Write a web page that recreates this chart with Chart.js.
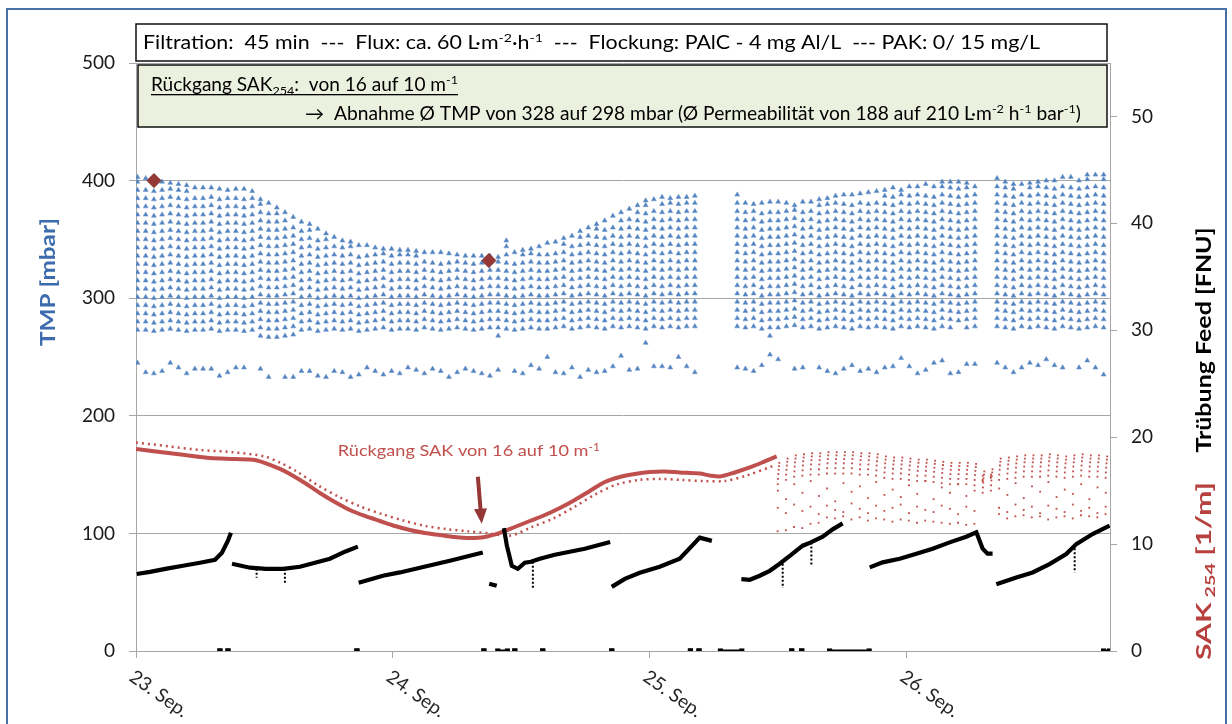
<!DOCTYPE html>
<html>
<head>
<meta charset="utf-8">
<script src="https://cdn.jsdelivr.net/npm/chart.js@4/dist/chart.umd.min.js"></script>
<style>
  html, body { margin: 0; padding: 0; background: #fff; }
  #wrap { width: 1232px; height: 724px; position: relative; }
</style>
</head>
<body>
<div id="wrap"><canvas id="c" width="1232" height="724"></canvas></div>
<script>
// ---- axis ticks / labels ----
const dayTicks = [0, 24, 48, 72];                       // hours since 23 Sep 00:00
const dayLabels = ['23. Sep.', '24. Sep.', '25. Sep.', '26. Sep.'];
const tmpTicks = [0, 100, 200, 300, 400, 500];
const turbTicks = [0, 10, 20, 30, 40, 50];

// ---- TMP filtration cycles (45 min filtration + backwash) ----
const CYCLE_H = 0.7658;
const TMP_STEP = 7;                                     // logged TMP increments within a cycle
const runStartHour = [0.14, 56.17, 80.45];
const runCycles = [69, 30, 14];
const tmpTop = [
  403,402,400,399,398,397,396,394,394,394, 393,392,393,393,391,384,381,377,373,369,
  365,363,359,355,352,349,348,345,345,343, 342,342,341,341,340,339,339,339,338,337,
  336,336,336,336,335,349,339,341,342,344, 347,348,351,353,357,360,363,366,370,373,
  376,379,383,384,386,385,386,386,387,
  388,381,380,381,382,382,381,379,382,382, 384,385,387,388,388,389,390,391,392,394,
  392,395,395,397,395,399,399,399,398,395,
  402,399,397,397,398,399,400,400,403,403,400,405,405,405
];
const tmpBase = [
  273,273,272,273,274,273,272,273,273,274,272,273,273,272,273,
  268,267,267,268,269,
  273,274,272,273,274,273,274,272,273,274, 275,273,274,274,273,275,274,273,274,275,
  274,273,274,275,268,274,273,274,275,274, 274,275,276,274,275,276,275,274,276,275,
  276,275,274,276,275,276,275,276,276,
  276,275,276,274,268,275,276,277,275,276, 274,275,276,275,274,276,275,276,275,274,
  276,275,276,275,274,276,275,281,275,276,
  276,275,274,276,275,276,275,274,276,275,274,275,276,275
];
const tmpFirst = [
  245,237,236,238,245,241,236,240,240,240,234,237,241,241,
  null,
  240,233,null,233,233,238,238,234,233,238,237,233,235,241,238,235,238,
  236,241,239,236,240,238,233,237,240,238,236,234,239,null,238,236,243,240,250,237,236,241,233,239,
  237,238,242,251,239,240,262,242,242,241,250,242,237,
  241,240,238,243,252,248,null,240,241,null,241,238,236,240,243,238,240,237,
  241,242,249,242,236,239,245,247,236,237,244,244,
  245,241,237,241,245,243,248,243,241,null,241,247,241,235
];
const markHours = [1.68, 32.97];
const markTmp = [400, 332];

// ---- SAK254 [1/m] ----
const sakHours = [0,2.24,4.58,6.91,9.25,11.11,12.33,13.45,14.38,15.78,17.18,18.58,19.98,21.39,22.79,
  24.19,25.59,26.99,28.39,29.79,31.19,32.59,33.99,35.39,36.79,38.2,39.6,41.0,42.4,43.8,
  45.2,46.6,48.0,49.4,50.8,52.67,53.6,54.54,55.94,57.34,58.74,59.86];
const sakValues = [18.9,18.62,18.33,18.05,17.96,17.87,17.49,17.03,16.56,15.72,14.78,13.94,13.19,12.63,12.16,
  11.69,11.32,11.04,10.85,10.66,10.57,10.66,11.04,11.6,12.16,12.72,13.38,14.13,14.97,15.81,
  16.28,16.56,16.74,16.79,16.7,16.6,16.42,16.32,16.7,17.17,17.73,18.2];
const sakDotHours = [0,3,6,9,12,13.5,15,17,19,21,23,25,27,29,31,33,35,37,39,41,43,45,47,49,51,53,55,57,59.5];
const sakDotValues = [19.5,19.15,18.8,18.6,18.2,17.6,16.8,15.5,14.4,13.5,12.8,12.2,11.7,11.4,11.2,11.0,
  10.8,11.6,12.4,13.5,14.7,15.6,16.0,16.1,16.0,15.9,15.9,16.4,17.3];
const sakCycleStart = 59.95;
const sakTop = [17.6,18.0,18.3,18.4,18.5,18.5,18.6,18.6,18.6,18.6, 18.5,18.5,18.4,18.2,18.1,18.1,18.0,17.9,17.9,17.8,
  17.7,17.6,17.6,17.6,17.5,16.8,17.0,18.0,18.1,18.2, 18.3,18.3,18.3,18.4,18.3,18.2,18.3,18.4,18.3,18.3, 18.2];
const sakMid = [15.0,14.2,15.6,14.8,15.9,14.5,15.2,14.0,15.7,14.9, 15.4,14.3,15.8,14.6,15.1,14.4,15.5,14.7,15.9,14.2,
  15.3,14.8,15.6,14.5,15.0,16.4,16.5,15.2,14.6,15.7, 14.3,15.4,14.9,15.8,14.4,15.1,14.7,15.6,14.2,15.3, 14.8];
const sakMid2 = [13.4,12.9,13.7,13.1,13.5,12.8,13.6,13.2,13.0,13.8, 13.3,12.9,13.6,13.1,13.4,13.7,12.9,13.5,13.2,13.0,
  13.6,13.3,12.8,13.5,13.1,16.0,16.3,13.4,13.0,13.7, 13.2,13.5,12.9,13.6,13.3,13.0,13.7,13.1,13.4,12.9, 13.5];
const sakLow = [11.2,11.3,11.6,11.5,11.9,12.0, 12.5,12.4,12.6,12.3,12.5,12.2,12.4,12.3,12.1,12.3,12.2,12.0,12.2,12.1,
  12.0,11.9,12.0,11.8,11.9, 15.9,16.2, 12.8,12.4,12.6,12.7,12.5,12.6,12.3,12.5,12.6,12.4,12.7,12.6,12.5,12.8];
const sakArcDx = [0.16, 0.13, 0.09, 0.06, 0.03, 0.01];  // shape of the dense arc at the top of a cycle
const sakArcDrop = [0, 0.3, 0.65, 1.05, 1.5, 2.0];

// ---- Trübung Feed [FNU] ----
const turbHours = [
  0.07,1.31,2.87,4.39,5.98,7.38,8.03,8.59,8.87, null,
  8.97,10.65,12.14,13.73,15.32,16.72,18.12,19.52,20.73, null,
  20.8,23.07,24.65,29.32,32.4, null,
  33.0,33.7, null,
  34.37,34.65,35.11,35.67,36.33,36.89,37.73,39.13,40.53,41.93,43.33,44.3, null,
  44.45,45.67,47.07,48.93,50.8,52.67,53.8, null,
  56.56,57.34,58.27,59.21,60.14,61.35,62.29,63.05,64.16,65.09,66.02, null,
  68.55,69.76,71.35,72.91,74.43,76.02,77.57,78.51,78.82,79.1,79.56,80.03, null,
  80.38,82.25,83.77,85.35,86.91,87.85,89.37,90.96
];
const turbValues = [
  7.2,7.4,7.7,7.97,8.26,8.54,9.19,10.32,11.07, null,
  8.16,7.79,7.69,7.69,7.88,8.26,8.63,9.29,9.76, null,
  6.38,7.04,7.35,8.44,9.22, null,
  6.3,6.1, null,
  11.5,9.85,7.97,7.69,8.26,8.35,8.63,9.0,9.29,9.57,9.94,10.2, null,
  6.0,6.75,7.32,7.88,8.63,10.6,10.3, null,
  6.73,6.66,7.04,7.5,8.16,9.1,9.85,10.16,10.7,11.38,11.94, null,
  7.82,8.29,8.63,9.1,9.57,10.16,10.69,11.1,10.32,9.57,9.1,9.1, null,
  6.25,6.88,7.35,8.13,9.07,10.0,10.94,11.73
];
const turbSpikeHours = [11.27, 13.91, 37.08, 60.42, 63.1, 87.7];
const turbSpikeFrom  = [7.69, 7.69, 8.35, 8.16, 10.16, 9.6];
const turbSpikeTo    = [6.85, 6.3, 5.9, 5.9, 8.0, 7.35];
const turbZeroStart = [7.84,8.59,20.64,32.5,33.8,35.39,38.0,44.45,51.8,52.6,54.6,61.26,62.2,64.8,90.4];
const turbZeroEnd   = [7.84,8.59,20.64,32.5,34.7,35.39,38.0,44.45,51.8,52.6,56.6,61.26,62.2,68.5,90.96];

// ---- colours / fonts ----
const BLUE = '#4f81bd', RED = '#c0504d', DARKRED = '#953735', GRID = '#a6a6a6';
const FONT = 'Lato, "Open Sans", sans-serif';

// ---- build point tables ----
const tmpPts = [];
let ci = 0;
runStartHour.forEach((h0, r) => {
  for (let i = 0; i < runCycles[r]; i++, ci++) {
    const t = h0 + i * CYCLE_H;
    if (tmpFirst[ci] != null) tmpPts.push({ x: t, y: tmpFirst[ci] });
    for (let v = tmpBase[ci]; v < tmpTop[ci] - 3; v += TMP_STEP) tmpPts.push({ x: t, y: v });
    tmpPts.push({ x: t, y: tmpTop[ci] });
  }
});
const markPts = markHours.map((h, i) => ({ x: h, y: markTmp[i] }));
const sakLinePts = sakHours.map((h, i) => ({ x: h, y: sakValues[i] }));
const sakDotPts = sakDotHours.map((h, i) => ({ x: h, y: sakDotValues[i] }));
const sakCyclePts = [];
sakTop.forEach((top, i) => {
  const t = sakCycleStart + i * CYCLE_H;
  sakArcDx.forEach((dx, k) => sakCyclePts.push({ x: t + dx, y: top - sakArcDrop[k] }));
  sakCyclePts.push({ x: t + 0.02, y: sakMid[i] });
  sakCyclePts.push({ x: t + 0.01, y: sakMid2[i] });
  sakCyclePts.push({ x: t, y: sakLow[i] });
});
const turbPts = turbHours.map((h, i) => h === null ? { x: NaN, y: null } : { x: h, y: turbValues[i] });
const spikePts = [];
turbSpikeHours.forEach((h, i) => {
  spikePts.push({ x: h, y: turbSpikeFrom[i] }, { x: h, y: turbSpikeTo[i] }, { x: NaN, y: null });
});
const zeroPts = [];
turbZeroStart.forEach((s, i) => {
  zeroPts.push({ x: s, y: 0 }, { x: turbZeroEnd[i], y: 0 }, { x: NaN, y: null });
});

// ---- rich text helpers (sub/superscripts, underline) ----
function partFont(p, size, weight) {
  const s = p.s ? size * 0.66 : size;
  return `${weight} ${s}px ${FONT}`;
}
function richWidth(ctx, parts, size, weight) {
  let w = 0;
  parts.forEach(p => { ctx.font = partFont(p, size, weight); w += ctx.measureText(p.t).width; });
  return w;
}
function drawRich(ctx, parts, x, y, size, weight, color, targetW, underline) {
  const w = richWidth(ctx, parts, size, weight);
  const k = targetW ? targetW / w : 1;
  ctx.save();
  ctx.translate(x, y);
  ctx.scale(k, 1);
  ctx.fillStyle = color;
  ctx.textBaseline = 'alphabetic';
  ctx.textAlign = 'left';
  let cx = 0;
  parts.forEach(p => {
    ctx.font = partFont(p, size, weight);
    const dy = p.s === 'sup' ? -size * 0.36 : p.s === 'sub' ? size * 0.22 : 0;
    ctx.fillText(p.t, cx, dy);
    cx += ctx.measureText(p.t).width;
  });
  if (underline) ctx.fillRect(0, 3, w, 1.3);
  ctx.restore();
}

const topLine = [
  { t: 'Filtration:  45 min  ---  Flux: ca. 60 L·m' }, { t: '-2', s: 'sup' }, { t: '·h' }, { t: '-1', s: 'sup' },
  { t: '  ---  Flockung: PAlC - 4 mg Al/L  --- PAK: 0/ 15 mg/L' }
];
const boxLine1 = [
  { t: 'Rückgang SAK' }, { t: '254', s: 'sub' }, { t: ':  von 16 auf 10 m' }, { t: '-1', s: 'sup' }
];
const boxLine2 = [
  { t: '→  Abnahme Ø TMP von 328 auf 298 mbar (Ø Permeabilität von 188 auf 210 L·m' }, { t: '-2', s: 'sup' },
  { t: ' h' }, { t: '-1', s: 'sup' }, { t: ' bar' }, { t: '-1', s: 'sup' }, { t: ')' }
];
const noteLine = [{ t: 'Rückgang SAK von 16 auf 10 m' }, { t: '-1', s: 'sup' }];
const tmpTitle = [{ t: 'TMP [mbar]' }];
const turbTitle = [{ t: 'Trübung Feed [FNU]' }];
const sakTitle = [{ t: 'SAK' }, { t: ' 254', s: 'sub' }, { t: ' [1/m]' }];

const decor = {
  id: 'decor',
  afterDraw(chart) {
    const { ctx, scales } = chart;
    const x = scales.x, y2 = scales.y2;

    // rotated day labels
    ctx.save();
    ctx.fillStyle = '#262626';
    ctx.font = `19px ${FONT}`;
    ctx.textBaseline = 'top';
    ctx.textAlign = 'left';
    dayTicks.forEach((h, i) => {
      ctx.save();
      ctx.translate(x.getPixelForValue(h) + 1, 667);
      ctx.rotate(35 * Math.PI / 180);
      ctx.fillText(dayLabels[i], 0, 0);
      ctx.restore();
    });
    ctx.restore();

    // info box
    ctx.save();
    ctx.fillStyle = '#fff';
    ctx.fillRect(136, 24, 971, 37);
    ctx.strokeStyle = '#111';
    ctx.lineWidth = 1.5;
    ctx.strokeRect(136, 24, 971, 37);
    ctx.fillStyle = '#ebf1de';
    ctx.fillRect(138, 65, 969, 62);
    ctx.strokeRect(138, 65, 969, 62);
    ctx.restore();
    drawRich(ctx, topLine, 143, 49, 18.5, 'normal', '#000', 897);
    drawRich(ctx, boxLine1, 151, 91, 18.5, 'normal', '#000', 307, true);
    drawRich(ctx, boxLine2, 305, 120, 18.5, 'normal', '#000', 776);

    // red note with arrow
    drawRich(ctx, noteLine, x.getPixelForValue(18.86), y2.getPixelForValue(18.2), 16, 'normal', RED, 262);
    const ax0 = x.getPixelForValue(31.94), ay0 = y2.getPixelForValue(16.3);
    const ax1 = x.getPixelForValue(32.3), ay1 = y2.getPixelForValue(11.9);
    const ang = Math.atan2(ay1 - ay0, ax1 - ax0);
    ctx.save();
    ctx.strokeStyle = DARKRED;
    ctx.fillStyle = DARKRED;
    ctx.lineWidth = 4;
    ctx.beginPath();
    ctx.moveTo(ax0, ay0);
    ctx.lineTo(ax1 - 12 * Math.cos(ang), ay1 - 12 * Math.sin(ang));
    ctx.stroke();
    ctx.translate(ax1, ay1);
    ctx.rotate(ang);
    ctx.beginPath();
    ctx.moveTo(0, 0);
    ctx.lineTo(-15, -6.5);
    ctx.lineTo(-15, 6.5);
    ctx.closePath();
    ctx.fill();
    ctx.restore();

    // axis titles
    const rot = (parts, cx, cy, size, weight, color, len) => {
      ctx.save();
      ctx.translate(cx, cy);
      ctx.rotate(-Math.PI / 2);
      drawRich(ctx, parts, -len / 2, size * 0.36, size, weight, color, len);
      ctx.restore();
    };
    rot(tmpTitle, 47, 282, 21, 'bold', '#3d6cae', 128);
    rot(turbTitle, 1203, 340, 21, 'bold', '#000', 225);
    rot(sakTitle, 1203, 571, 21, 'bold', '#b7413e', 178);

    // frame
    ctx.save();
    ctx.strokeStyle = '#4a6fa5';
    ctx.lineWidth = 2;
    ctx.strokeRect(7, 9, 1219, 730);
    ctx.restore();
  }
};

Chart.defaults.font.family = FONT;

new Chart(document.getElementById('c'), {
  type: 'scatter',
  data: {
    datasets: [
      { label: 'Marker', data: markPts, yAxisID: 'y', order: 0,
        pointStyle: 'rectRot', pointRadius: 7, backgroundColor: DARKRED, borderColor: '#7a2a28', borderWidth: 1 },
      { label: 'Trübung Feed', data: turbPts, yAxisID: 'y2', order: 1, showLine: true, spanGaps: false,
        borderColor: '#000', borderWidth: 4.2, pointRadius: 0 },
      { label: 'Trübung Spitzen', data: spikePts, yAxisID: 'y2', order: 1, showLine: true, spanGaps: false,
        borderColor: '#000', borderWidth: 2, borderDash: [2, 2], pointRadius: 0 },
      { label: 'Trübung 0', data: zeroPts, yAxisID: 'y2', order: 1, showLine: true, spanGaps: false,
        borderColor: '#000', borderWidth: 3, pointRadius: 1.5, pointStyle: 'rect', backgroundColor: '#000', borderCapStyle: 'butt' },
      { label: 'SAK254', data: sakLinePts, yAxisID: 'y2', order: 2, showLine: true,
        borderColor: RED, borderWidth: 4, pointRadius: 0, tension: 0.3 },
      { label: 'SAK254 2', data: sakDotPts, yAxisID: 'y2', order: 2, showLine: true,
        borderColor: RED, borderWidth: 2.5, borderDash: [2, 4], pointRadius: 0, tension: 0.3 },
      { label: 'SAK254 Zyklen', data: sakCyclePts, yAxisID: 'y2', order: 2,
        pointStyle: 'rect', pointRadius: 1.3, backgroundColor: RED, borderWidth: 0 },
      { label: 'TMP', data: tmpPts, yAxisID: 'y', order: 3,
        pointStyle: 'triangle', pointRadius: 2.8, backgroundColor: BLUE, borderColor: '#6f97cc', borderWidth: 0.6 }
    ]
  },
  options: {
    responsive: false,
    animation: false,
    devicePixelRatio: 1,
    layout: { padding: { top: 63, left: 0, right: 0, bottom: 0 } },
    plugins: { legend: { display: false }, tooltip: { enabled: false } },
    scales: {
      x: {
        type: 'linear', position: 'bottom', min: 0, max: 91,
        afterBuildTicks: s => { s.ticks = dayTicks.map(v => ({ value: v })); },
        ticks: { display: false },
        grid: { drawOnChartArea: false, drawTicks: true, tickLength: 7, color: GRID },
        border: { color: GRID },
        afterFit: s => { s.height = 73; }
      },
      y: {
        position: 'left', min: 0, max: 500,
        afterBuildTicks: s => { s.ticks = tmpTicks.map(v => ({ value: v })); },
        ticks: { padding: 14, color: '#1a1a1a', font: { size: 19 } },
        grid: { color: GRID, tickLength: 7 },
        border: { color: GRID },
        afterFit: s => { s.width = 136; }
      },
      y2: {
        position: 'right', min: 0, max: 55,
        afterBuildTicks: s => { s.ticks = turbTicks.map(v => ({ value: v })); },
        ticks: { padding: 14, color: '#1a1a1a', font: { size: 19 } },
        grid: { drawOnChartArea: false, color: GRID, tickLength: 7 },
        border: { color: GRID },
        afterFit: s => { s.width = 122; }
      }
    }
  },
  plugins: [decor]
});
</script>
</body>
</html>
